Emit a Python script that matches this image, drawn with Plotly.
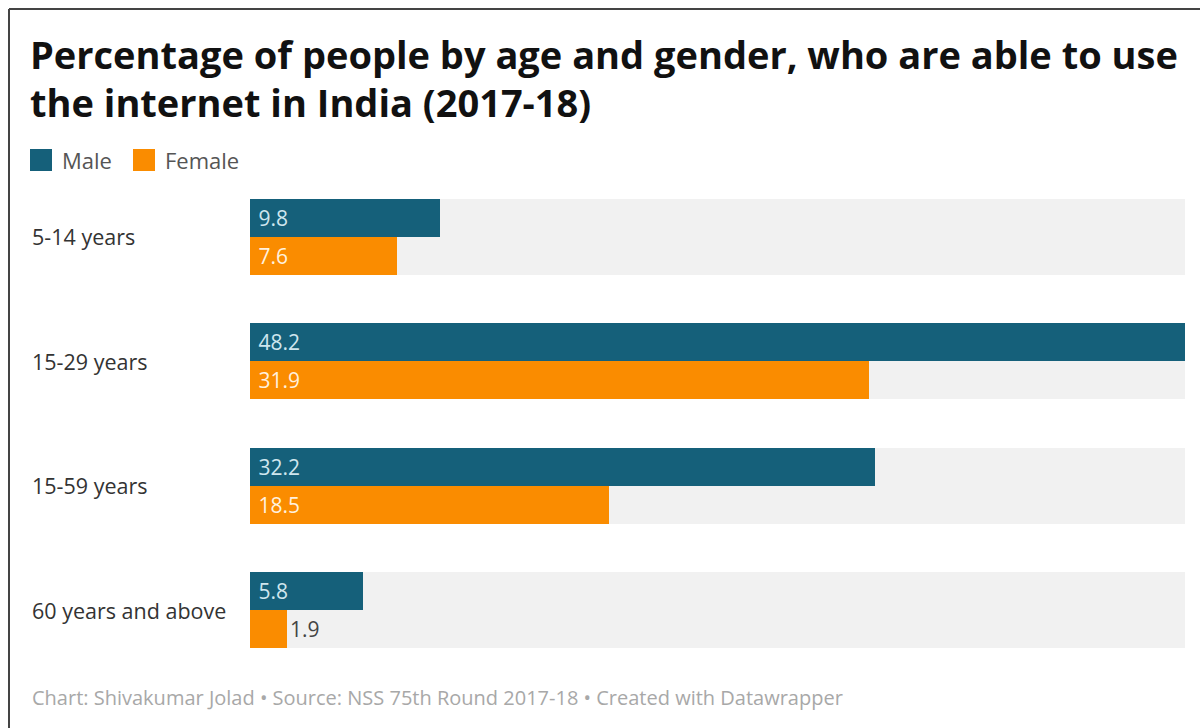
import plotly.graph_objects as go

# Data: NSS 75th Round 2017-18
age_groups = ["5-14 years", "15-29 years", "15-59 years", "60 years and above"]
series_names = ["Male", "Female"]
male = [9.8, 48.2, 32.2, 5.8]
female = [7.6, 31.9, 18.5, 1.9]

colors = {"Male": "#15607a", "Female": "#fa8c00"}
inside_text = {"Male": "#cfe6ee", "Female": "#fff1de"}
track_color = "#f1f1f1"
font_family = "'Open Sans', Roboto, sans-serif"

W, H = 1200, 728
L, R, T, B = 250, 15, 199, 80
plot_w, plot_h = W - L - R, H - T - B

xmax = max(male + female)
bar_h = 0.305  # each bar's thickness in category units


def px_x(p):
    return (p - L) / plot_w


def px_y(p):
    return (H - B - p) / plot_h


idx = list(range(len(age_groups)))
fig = go.Figure()

# grey background track behind each pair of bars
fig.add_trace(go.Bar(
    y=idx, x=[xmax] * len(idx), orientation="h", width=2 * bar_h,
    marker=dict(color=track_color, line=dict(width=0)),
    hoverinfo="skip", showlegend=False,
))


def label_pos(vals):
    # small bars get their value printed just outside the bar
    return ["outside" if v / xmax * plot_w < 50 else "inside" for v in vals]


for name, vals, shift in [("Male", male, -bar_h / 2), ("Female", female, bar_h / 2)]:
    pos = label_pos(vals)
    fig.add_trace(go.Bar(
        name=name,
        y=[i + shift for i in idx], x=vals, orientation="h", width=bar_h,
        marker=dict(color=colors[name], line=dict(width=0)),
        text=[("\u00a0" if p == "inside" else "") + f"{v:.1f}" for v, p in zip(vals, pos)],
        textposition=pos,
        insidetextanchor="start",
        textfont=dict(family=font_family, size=21,
                      color=[inside_text[name] if p == "inside" else "#444" for p in pos]),
        cliponaxis=False,
        showlegend=False,
    ))

annotations = []
# title, two lines
for text, y in [("Percentage of people by age and gender, who are able to use", 54),
                ("the internet in India (2017-18)", 102)]:
    annotations.append(dict(
        text=f"<b>{text}</b>", xref="paper", yref="paper", x=px_x(28), y=px_y(y),
        xanchor="left", yanchor="middle", showarrow=False,
        font=dict(family=font_family, size=38, color="#111"),
    ))

# category labels
for i, g in enumerate(age_groups):
    annotations.append(dict(
        text=g, xref="paper", yref="y", x=px_x(30), y=i,
        xanchor="left", yanchor="middle", showarrow=False,
        font=dict(family=font_family, size=21.5, color="#333"),
    ))

# legend
shapes = []
legend_x = [30, 133]
for name, x0 in zip(series_names, legend_x):
    shapes.append(dict(
        type="rect", xref="paper", yref="paper",
        x0=px_x(x0), x1=px_x(x0 + 22), y0=px_y(171), y1=px_y(149),
        fillcolor=colors[name], line=dict(width=0),
    ))
    annotations.append(dict(
        text=name, xref="paper", yref="paper", x=px_x(x0 + 30), y=px_y(160),
        xanchor="left", yanchor="middle", showarrow=False,
        font=dict(family=font_family, size=22, color="#555"),
    ))

# footer
annotations.append(dict(
    text="Chart: Shivakumar Jolad • Source: NSS 75th Round 2017-18 • Created with Datawrapper",
    xref="paper", yref="paper", x=px_x(30), y=px_y(697),
    xanchor="left", yanchor="middle", showarrow=False,
    font=dict(family=font_family, size=20, color="#a8a8a8"),
))

# frame lines on the top and left edge
shapes.append(dict(type="line", xref="paper", yref="paper",
                   x0=px_x(9), x1=px_x(W), y0=px_y(9), y1=px_y(9),
                   line=dict(color="#444", width=2)))
shapes.append(dict(type="line", xref="paper", yref="paper",
                   x0=px_x(9), x1=px_x(9), y0=px_y(9), y1=px_y(H),
                   line=dict(color="#444", width=2)))

fig.update_layout(
    width=W, height=H,
    margin=dict(l=L, r=R, t=T, b=B),
    paper_bgcolor="white", plot_bgcolor="white",
    barmode="overlay",
    bargap=0,
    xaxis=dict(range=[0, xmax], visible=False, fixedrange=True),
    yaxis=dict(range=[len(idx) - 1 + bar_h, -bar_h], visible=False, fixedrange=True),
    annotations=annotations,
    shapes=shapes,
    font=dict(family=font_family),
    uniformtext=dict(mode=False),
)

fig.write_html("out.html")
